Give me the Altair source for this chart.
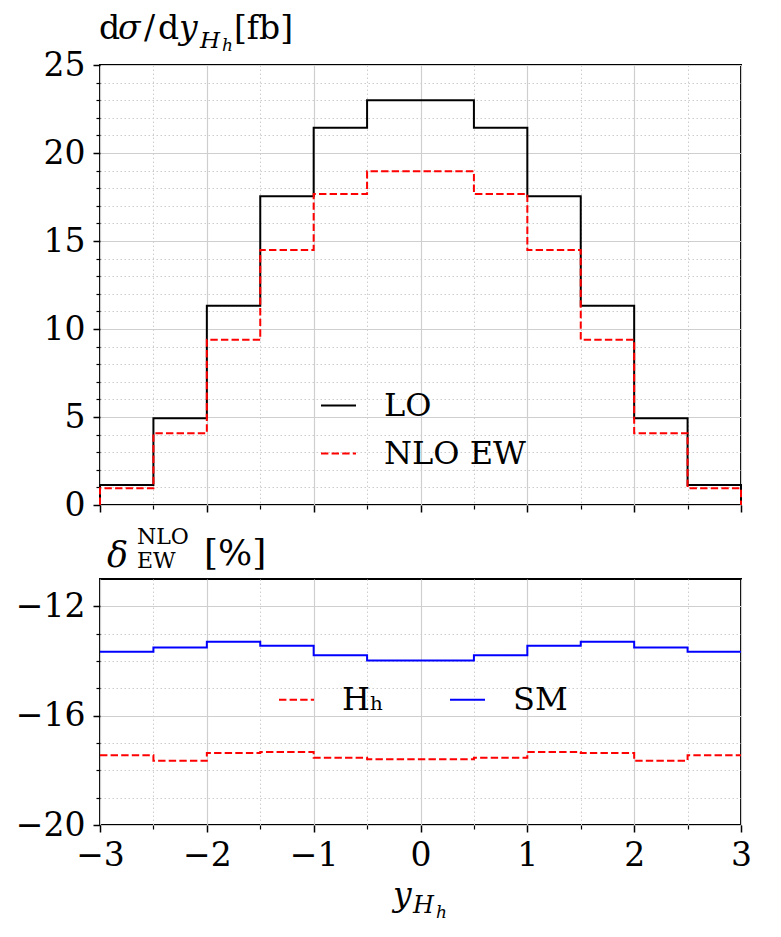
import altair as alt
import pandas as pd

SERIF = "DejaVu Serif"

# ---- data ----
edges = [-3.0, -2.5, -2.0, -1.5, -1.0, -0.5, 0.0, 0.5, 1.0, 1.5, 2.0, 2.5, 3.0]
lo = [1.14, 4.93, 11.32, 17.54, 21.43, 23.0, 23.0, 21.43, 17.54, 11.32, 4.93, 1.14]
nlo = [0.95, 4.08, 9.39, 14.49, 17.67, 18.96, 18.96, 17.67, 14.49, 9.39, 4.08, 0.95]
sm = [-13.66, -13.51, -13.30, -13.44, -13.79, -13.98, -13.98, -13.79, -13.44, -13.30, -13.51, -13.66]
hh = [-17.45, -17.65, -17.37, -17.33, -17.54, -17.59, -17.59, -17.54, -17.33, -17.37, -17.65, -17.45]

top_names = ["LO", "NLO EW"]
bot_names = ["H\u2095", "SM"]

x_major = [-3, -2, -1, 0, 1, 2, 3]
x_minor = [-2.5, -1.5, -0.5, 0.5, 1.5, 2.5]
ytop_major = [0, 5, 10, 15, 20, 25]
ytop_minor = [v for v in range(0, 26) if v % 5 != 0]
ybot_major = [-20, -16, -12]
ybot_minor = [-19, -18, -17, -15, -14, -13]


def step_df(vals, name, to_zero):
    xs, ys = [], []
    if to_zero:
        xs.append(edges[0]); ys.append(0.0)
    for e, v in zip(edges[:-1], vals):
        xs.append(e); ys.append(v)
    xs.append(edges[-1]); ys.append(vals[-1])
    if to_zero:
        xs.append(edges[-1]); ys.append(0.0)
    return pd.DataFrame({"x": xs, "y": ys, "s": name, "i": list(range(len(xs)))})


df_lo = step_df(lo, top_names[0], True)
df_nlo = step_df(nlo, top_names[1], True)
df_hh = step_df(hh, bot_names[0], False)
df_sm = step_df(sm, bot_names[1], False)

W = 641
H_TOP = 440
H_BOT = 246
DASH = [7.4, 3.2]
MAJ_GRID = "#cfcfcf"
MIN_GRID = "#cdcdcd"

xscale = alt.Scale(domain=[-3, 3], nice=False, zero=False)
ytop_scale = alt.Scale(domain=[0, 25], nice=False, zero=False)
ybot_scale = alt.Scale(domain=[-20, -11], nice=False, zero=False)


def major_axis(values, orient, labels):
    return alt.Axis(values=values, orient=orient, labels=labels, tickSize=7, tickWidth=1.5,
                    tickColor="black", grid=True, gridColor=MAJ_GRID, gridWidth=1.2,
                    domain=False, title=None, labelFont=SERIF, labelFontSize=33,
                    labelColor="black", labelFlush=False, labelOverlap=False,
                    labelPadding=8 if orient == "left" else 7)


def minor_axis(values, orient):
    return alt.Axis(values=values, orient=orient, labels=False, tickSize=4, tickWidth=1.2,
                    tickColor="black", grid=True, gridColor=MIN_GRID, gridWidth=1,
                    gridDash=[1.5, 2.5], domain=False, title=None)


dummy = pd.DataFrame({"a": [0]})


def txt(s, x, y, size, italic=False):
    return alt.Chart(dummy).mark_text(
        text=s, font=SERIF, fontSize=size, fontStyle="italic" if italic else "normal",
        align="left", baseline="alphabetic", color="black"
    ).encode(x=alt.value(x), y=alt.value(y))


def legend(lx, ly, cols):
    return alt.Legend(title=None, orient="none", legendX=lx, legendY=ly, columns=cols,
                      symbolType="stroke", symbolSize=1225, symbolStrokeWidth=2,
                      labelFont=SERIF, labelFontSize=32, labelColor="black",
                      labelOffset=27, rowPadding=13, columnPadding=62, padding=0)


# ---- top panel ----
top_color = alt.Color("s:N", scale=alt.Scale(domain=top_names, range=["black", "#ff0000"]),
                      legend=legend(220, 322, 1))
top_dash = alt.StrokeDash("s:N", scale=alt.Scale(domain=top_names, range=[[1, 0], DASH]),
                          legend=legend(220, 322, 1))

top_minor = alt.Chart(df_lo).mark_point(opacity=0).encode(
    x=alt.X("x:Q", scale=xscale, axis=minor_axis(x_minor, "bottom")),
    y=alt.Y("y:Q", scale=ytop_scale, axis=minor_axis(ytop_minor, "left")),
)
top_lo = alt.Chart(df_lo).mark_line(interpolate="step-after", strokeWidth=2).encode(
    x=alt.X("x:Q", scale=xscale, axis=major_axis(x_major, "bottom", False)),
    y=alt.Y("y:Q", scale=ytop_scale, axis=major_axis(ytop_major, "left", True)),
    color=top_color, strokeDash=top_dash, order="i:Q",
)
top_nlo = alt.Chart(df_nlo).mark_line(interpolate="step-after", strokeWidth=2).encode(
    x=alt.X("x:Q", scale=xscale, axis=None),
    y=alt.Y("y:Q", scale=ytop_scale, axis=None),
    color=top_color, strokeDash=top_dash, order="i:Q",
)
top_title = [
    txt("d", -1, -26, 33),
    txt("\u03c3", 18, -26, 33, True),
    txt("/", 44, -26, 33),
    txt("d", 58, -26, 33),
    txt("y", 79, -26, 33, True),
    txt("H", 100, -17, 23, True),
    txt("h", 122, -14, 17, True),
    txt("[fb]", 134, -26, 33),
]
top = alt.layer(top_minor, top_lo, top_nlo, *top_title).resolve_axis(
    x="independent", y="independent").properties(width=W, height=H_TOP)

# ---- bottom panel ----
bot_color = alt.Color("s:N", scale=alt.Scale(domain=bot_names, range=["#ff0000", "#0000ff"]),
                      legend=legend(178, 102, 2))
bot_dash = alt.StrokeDash("s:N", scale=alt.Scale(domain=bot_names, range=[DASH, [1, 0]]),
                          legend=legend(178, 102, 2))

bot_minor = alt.Chart(df_sm).mark_point(opacity=0).encode(
    x=alt.X("x:Q", scale=xscale, axis=minor_axis(x_minor, "bottom")),
    y=alt.Y("y:Q", scale=ybot_scale, axis=minor_axis(ybot_minor, "left")),
)
bot_hh = alt.Chart(df_hh).mark_line(interpolate="step-after", strokeWidth=2).encode(
    x=alt.X("x:Q", scale=xscale, axis=major_axis(x_major, "bottom", True)),
    y=alt.Y("y:Q", scale=ybot_scale, axis=major_axis(ybot_major, "left", True)),
    color=bot_color, strokeDash=bot_dash, order="i:Q",
)
bot_sm = alt.Chart(df_sm).mark_line(interpolate="step-after", strokeWidth=2).encode(
    x=alt.X("x:Q", scale=xscale, axis=None),
    y=alt.Y("y:Q", scale=ybot_scale, axis=None),
    color=bot_color, strokeDash=bot_dash, order="i:Q",
)
bot_title = [
    txt("\u03b4", 7, -12, 35, True),
    txt("NLO", 37, -35, 22),
    txt("EW", 37, -11, 22),
    txt("[%]", 104, -14, 36),
    txt("y", 293, 327, 33, True),
    txt("H", 313, 334, 24, True),
    txt("h", 336, 339, 17, True),
]
bottom = alt.layer(bot_minor, bot_hh, bot_sm, *bot_title).resolve_axis(
    x="independent", y="independent").properties(width=W, height=H_BOT)

chart = alt.vconcat(top, bottom, spacing=74, bounds="flush").resolve_scale(
    color="independent", strokeDash="independent"
).resolve_legend(
    color="independent", strokeDash="independent"
).configure_view(
    stroke="black", strokeWidth=2
).properties(padding={"left": 6, "top": 4, "right": 5, "bottom": 5}, background="white")

chart.save("out.html", embed_options={"renderer": "svg", "actions": False})
